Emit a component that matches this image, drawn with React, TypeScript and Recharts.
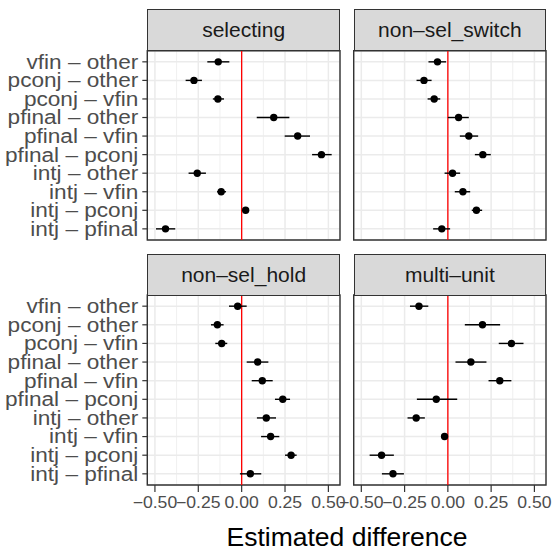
import React from "react";
import {
  ScatterChart,
  Scatter,
  XAxis,
  YAxis,
  CartesianGrid,
  ReferenceLine,
  ReferenceArea,
  ErrorBar,
} from "recharts";

const categories = [
  "vfin – other",
  "pconj – other",
  "pconj – vfin",
  "pfinal – other",
  "pfinal – vfin",
  "pfinal – pconj",
  "intj – other",
  "intj – vfin",
  "intj – pconj",
  "intj – pfinal",
];

const panelNames = ["selecting", "non–sel_switch", "non–sel_hold", "multi–unit"];

const selectingEst = [-0.135, -0.275, -0.137, 0.185, 0.323, 0.46, -0.256, -0.118, 0.023, -0.439];
const selectingLo = [-0.198, -0.323, -0.166, 0.087, 0.248, 0.406, -0.306, -0.142, 0.017, -0.494];
const selectingHi = [-0.071, -0.229, -0.102, 0.275, 0.394, 0.519, -0.206, -0.09, 0.029, -0.383];

const switchEst = [-0.06, -0.138, -0.079, 0.062, 0.121, 0.202, 0.027, 0.087, 0.165, -0.035];
const switchLo = [-0.112, -0.181, -0.117, 0.0, 0.069, 0.156, -0.019, 0.04, 0.138, -0.085];
const switchHi = [-0.01, -0.094, -0.044, 0.121, 0.175, 0.248, 0.071, 0.129, 0.198, 0.013];

const holdEst = [-0.023, -0.14, -0.115, 0.092, 0.119, 0.237, 0.142, 0.167, 0.285, 0.05];
const holdLo = [-0.073, -0.177, -0.152, 0.029, 0.058, 0.192, 0.088, 0.112, 0.25, -0.01];
const holdHi = [0.029, -0.104, -0.083, 0.154, 0.179, 0.279, 0.198, 0.217, 0.317, 0.113];

const multiEst = [-0.167, 0.2, 0.367, 0.133, 0.3, -0.067, -0.183, -0.019, -0.383, -0.317];
const multiLo = [-0.219, 0.098, 0.294, 0.044, 0.235, -0.179, -0.233, -0.033, -0.452, -0.381];
const multiHi = [-0.113, 0.302, 0.437, 0.223, 0.367, 0.054, -0.133, -0.006, -0.312, -0.254];

const X_DOMAIN: [number, number] = [-0.544, 0.567];
const X_TICKS = [-0.5, -0.25, 0, 0.25, 0.5];
const X_MINOR = [-0.375, -0.125, 0.125, 0.375];
const Y_DOMAIN: [number, number] = [-0.6, 9.6];
const Y_IDX = categories.map((_, i) => i);

const FONT = '"Liberation Sans", Arial, Helvetica, sans-serif';

const fmtX = (v: number) => (v < 0 ? "\u2212" + Math.abs(v).toFixed(2) : v.toFixed(2));

const Dot = (props: any) => {
  const { cx, cy } = props;
  if (cx == null || cy == null) return null;
  return <circle cx={cx} cy={cy} r={3.7} fill="#000" />;
};

const YTick = (props: any) => {
  const { x, y, payload } = props;
  return (
    <text
      x={0}
      y={0}
      transform={`translate(${x},${y}) scale(1.16,1)`}
      textAnchor="end"
      dy="0.355em"
      fill="#4D4D4D"
      fontSize={19.5}
      fontFamily={FONT}
    >
      {categories[payload.value]}
    </text>
  );
};

const XTick = (props: any) => {
  const { x, y, payload } = props;
  return (
    <text
      x={0}
      y={0}
      transform={`translate(${x},${y}) scale(1.1,1)`}
      textAnchor="middle"
      dy="0.71em"
      fill="#4D4D4D"
      fontSize={16}
      fontFamily={FONT}
    >
      {fmtX(payload.value)}
    </text>
  );
};

type PanelProps = {
  est: number[];
  lo: number[];
  hi: number[];
  showX: boolean;
  showY: boolean;
  left: number;
  top: number;
  width: number;
  height: number;
  margin: { top: number; right: number; bottom: number; left: number };
};

function Panel({ est, lo, hi, showX, showY, left, top, width, height, margin }: PanelProps) {
  const data = est.map((v, i) => ({ x: v, y: i, err: [v - lo[i], hi[i] - v] }));
  return (
    <div style={{ position: "absolute", left, top }}>
      <ScatterChart width={width} height={height} margin={margin}>
        <CartesianGrid
          {...({ verticalValues: X_MINOR } as any)}
          horizontal={false}
          stroke="#EBEBEB"
          strokeWidth={0.8}
        />
        <CartesianGrid stroke="#EBEBEB" strokeWidth={1.5} />
        <XAxis
          type="number"
          dataKey="x"
          domain={X_DOMAIN}
          ticks={X_TICKS}
          interval={0}
          allowDataOverflow
          hide={!showX}
          height={30}
          tick={<XTick />}
          tickLine={{ stroke: "#333333", strokeWidth: 1.2 }}
          axisLine={false}
          tickSize={7}
          tickMargin={5}
        />
        <YAxis
          type="number"
          dataKey="y"
          domain={Y_DOMAIN}
          ticks={Y_IDX}
          interval={0}
          reversed
          allowDataOverflow
          hide={!showY}
          width={147.3}
          tick={<YTick />}
          tickLine={{ stroke: "#333333", strokeWidth: 1.2 }}
          axisLine={false}
          tickSize={5}
          tickMargin={4}
        />
        <ReferenceLine x={0} stroke="#FF0000" strokeWidth={1.3} ifOverflow="visible" />
        <ReferenceArea
          x1={X_DOMAIN[0]}
          x2={X_DOMAIN[1]}
          y1={Y_DOMAIN[0]}
          y2={Y_DOMAIN[1]}
          fill="none"
          fillOpacity={0}
          stroke="#333333"
          strokeWidth={1.4}
          ifOverflow="visible"
        />
        <Scatter data={data} isAnimationActive={false} shape={Dot}>
          <ErrorBar
            dataKey="err"
            direction="x"
            width={0}
            stroke="#000"
            strokeWidth={1.4}
            isAnimationActive={false}
          />
        </Scatter>
      </ScatterChart>
    </div>
  );
}

function Strip({ label, left, top, width, height }: { label: string; left: number; top: number; width: number; height: number }) {
  return (
    <div
      style={{
        position: "absolute",
        left,
        top,
        width,
        height,
        boxSizing: "border-box",
        background: "#D9D9D9",
        border: "1.4px solid #333333",
        display: "flex",
        alignItems: "center",
        justifyContent: "center",
        color: "#1A1A1A",
        fontSize: 21,
        fontFamily: FONT,
        lineHeight: 1,
      }}
    >
      {label}
    </div>
  );
}

export default function App() {
  const topM = { top: 10.7, right: 2, bottom: 2, left: 0 };
  const topMR = { top: 10.7, right: 2, bottom: 2, left: 1.7 };
  const botM = { top: 10, right: 22, bottom: 0, left: 0 };
  const botMR = { top: 10, right: 7, bottom: 0, left: 21.7 };
  return (
    <div
      style={{
        position: "absolute",
        left: 0,
        top: 0,
        width: 553,
        height: 552,
        background: "#fff",
        fontFamily: FONT,
        overflow: "hidden",
      }}
    >
      <Panel est={selectingEst} lo={selectingLo} hi={selectingHi} showX={false} showY={true}
        left={0} top={40} width={342} height={202} margin={topM} />
      <Panel est={switchEst} lo={switchLo} hi={switchHi} showX={false} showY={false}
        left={352} top={40} width={196} height={202} margin={topMR} />
      <Panel est={holdEst} lo={holdLo} hi={holdHi} showX={true} showY={true}
        left={0} top={285} width={362} height={230} margin={botM} />
      <Panel est={multiEst} lo={multiLo} hi={multiHi} showX={true} showY={false}
        left={332} top={285} width={221} height={230} margin={botMR} />

      <Strip label={panelNames[0]} left={147.3} top={9.3} width={192.7} height={41.4} />
      <Strip label={panelNames[1]} left={353.7} top={9.3} width={192.3} height={41.4} />
      <Strip label={panelNames[2]} left={147.3} top={254.3} width={192.7} height={41.4} />
      <Strip label={panelNames[3]} left={353.7} top={254.3} width={192.3} height={41.4} />

      <svg style={{ position: "absolute", left: 0, top: 500 }} width={553} height={52}>
        <text x={347} y={46} textAnchor="middle" fontSize={26.5} fill="#000" fontFamily={FONT}>
          Estimated difference
        </text>
      </svg>
    </div>
  );
}
